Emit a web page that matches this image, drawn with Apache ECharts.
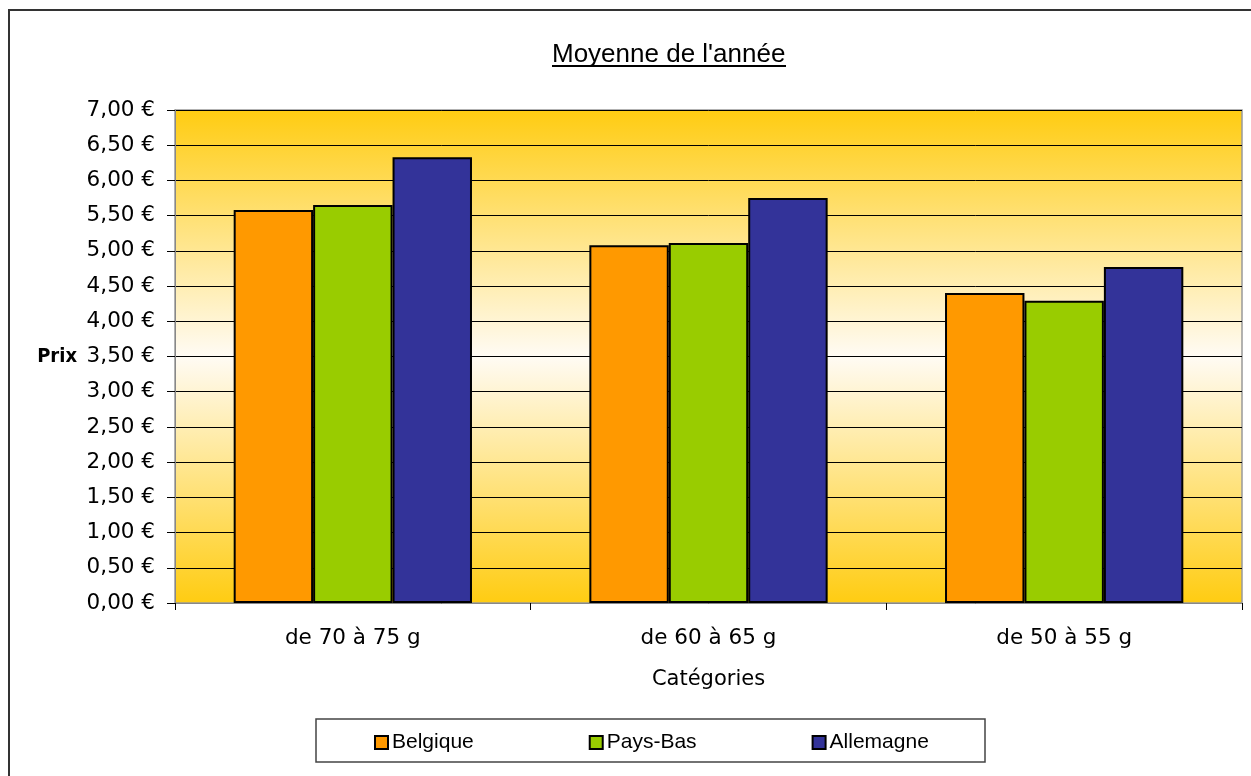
<!DOCTYPE html>
<html>
<head>
<meta charset="utf-8">
<script src="https://cdn.jsdelivr.net/npm/echarts@6/dist/echarts.min.js"></script>
<style>
  html, body { margin: 0; padding: 0; background: #fff; }
  #chart { width: 1251px; height: 776px; }
</style>
</head>
<body>
<div id="chart"></div>
<script>
// données
const categories = ['de 70 à 75 g', 'de 60 à 65 g', 'de 50 à 55 g'];
const belgique = [5.58, 5.08, 4.40];
const paysBas = [5.65, 5.11, 4.29];
const allemagne = [6.33, 5.75, 4.77];

const chart = echarts.init(document.getElementById('chart'));

// fond dégradé jaune -> blanc -> jaune
const bg = new echarts.graphic.LinearGradient(0, 0, 0, 1, [
  { offset: 0, color: '#FFCC11' },
  { offset: 0.5, color: '#FFFBF4' },
  { offset: 1, color: '#FFCC11' }
]);

function bar(name, color, data) {
  return {
    name: name,
    type: 'bar',
    data: data,
    barGap: '0%',
    barCategoryGap: '33%',
    itemStyle: { color: color, borderColor: '#000', borderWidth: 2 }
  };
}

const option = {
  animation: false,
  backgroundColor: '#fff',
  title: {
    text: "Moyenne de l'année",
    left: 552,
    top: 42,
    padding: 0,
    textStyle: { fontFamily: 'Liberation Sans', fontSize: 26, fontWeight: 'normal', color: '#000' }
  },
  grid: {
    left: 175, right: 9, top: 110, bottom: 173,
    show: true,
    backgroundColor: bg,
    borderColor: '#999',
    borderWidth: 1.5
  },
  legend: {
    left: 374,
    top: 732,
    padding: 0,
    itemGap: 115,
    itemWidth: 13,
    itemHeight: 13,
    icon: 'rect',
    itemStyle: { borderColor: '#000', borderWidth: 2 },
    textStyle: { fontFamily: 'Liberation Sans', fontSize: 21, color: '#000', padding: [0, 0, 0, -1] },
    data: ['Belgique', 'Pays-Bas', 'Allemagne']
  },
  xAxis: {
    type: 'category',
    data: categories,
    name: 'Catégories',
    nameLocation: 'middle',
    nameGap: 66,
    nameTextStyle: { fontFamily: 'DejaVu Sans', fontSize: 21, color: '#000' },
    axisLine: { lineStyle: { color: '#888' } },
    axisTick: { show: true, length: 7, lineStyle: { color: '#000' } },
    axisLabel: { margin: 24, fontFamily: 'DejaVu Sans', fontSize: 21.5, color: '#000' }
  },
  yAxis: {
    type: 'value',
    min: 0,
    max: 7,
    interval: 0.5,
    name: 'Prix',
    nameLocation: 'middle',
    nameRotate: 0,
    nameGap: 98,
    nameTextStyle: { fontFamily: 'DejaVu Sans Condensed', fontWeight: 'bold', fontSize: 20, color: '#000' },
    axisLine: { show: true, lineStyle: { color: '#888' } },
    axisTick: { show: true, length: 8, lineStyle: { color: '#000' } },
    splitLine: { lineStyle: { color: '#000', width: 1 } },
    axisLabel: {
      margin: 20,
      fontFamily: 'DejaVu Sans',
      fontSize: 21.5,
      color: '#000',
      formatter: v => v.toFixed(2).replace('.', ',') + ' €'
    }
  },
  graphic: [
    {
      type: 'rect',
      shape: { x: 9, y: 10, width: 1300, height: 800 },
      style: { fill: null, stroke: '#333', lineWidth: 2 },
      silent: true
    },
    {
      type: 'rect',
      shape: { x: 316, y: 719, width: 669, height: 43 },
      style: { fill: null, stroke: '#444', lineWidth: 1.5 },
      silent: true
    },
    {
      type: 'line',
      shape: { x1: 552, y1: 66, x2: 786, y2: 66 },
      style: { stroke: '#000', lineWidth: 2 },
      silent: true
    }
  ],
  series: [
    bar('Belgique', '#FF9900', belgique),
    bar('Pays-Bas', '#99CC00', paysBas),
    bar('Allemagne', '#333399', allemagne)
  ]
};

chart.setOption(option);
</script>
</body>
</html>
